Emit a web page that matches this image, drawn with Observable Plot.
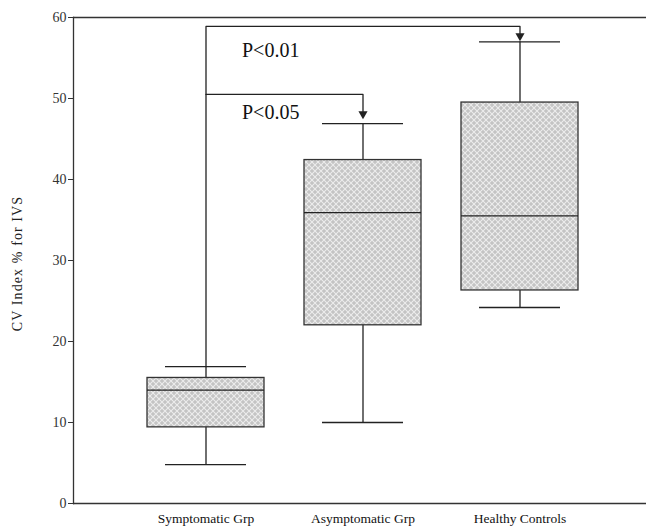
<!DOCTYPE html>
<html><head><meta charset="utf-8">
<script src="https://cdn.jsdelivr.net/npm/d3@7"></script>
<script src="https://cdn.jsdelivr.net/npm/@observablehq/plot@0.6"></script>
<style>body{margin:0;background:#fff}</style>
</head><body><div id="chart"></div>
<script>
const groups = ["Symptomatic Grp", "Asymptomatic Grp", "Healthy Controls"];
const whiskerLow = [4.8, 10, 24.2];
const quartile1 = [9.4, 22, 26.3];
const medians = [14, 35.9, 35.5];
const quartile3 = [15.5, 42.4, 49.5];
const whiskerHigh = [16.9, 46.9, 57];
const yTicks = [0, 10, 20, 30, 40, 50, 60];
const yLabel = "CV Index % for IVS";

const bracketLabels = ["P<0.01", "P<0.05"];
const bracketTargets = [groups[2], groups[1]];
const bracketLevels = [58.9, 50.5];
const bracketArrowBase = [58.0, 48.4];
const bracketArrowCenter = [57.73, 48.1];
const bracketLabelY = [55.9, 48.2];

const boxes = groups.map((g, i) => ({group: g, low: whiskerLow[i], q1: quartile1[i], median: medians[i], q3: quartile3[i], high: whiskerHigh[i]}));

const bracketPath = [
  {k: 0, x: groups[0], y: whiskerHigh[0]},
  {k: 0, x: groups[0], y: bracketLevels[0]},
  {k: 0, x: bracketTargets[0], y: bracketLevels[0]},
  {k: 0, x: bracketTargets[0], y: bracketArrowBase[0]},
  {k: 1, x: groups[0], y: bracketLevels[1]},
  {k: 1, x: bracketTargets[1], y: bracketLevels[1]},
  {k: 1, x: bracketTargets[1], y: bracketArrowBase[1]}
];
const arrows = bracketTargets.map((t, i) => ({x: t, y: bracketArrowCenter[i]}));
const labels = bracketLabels.map((l, i) => ({x: groups[0], y: bracketLabelY[i], text: l}));

const ink = "#222";
const chart = Plot.plot({
  width: 646,
  height: 529,
  marginLeft: 73,
  marginRight: 0,
  marginTop: 17,
  marginBottom: 26,
  style: {fontFamily: "'Liberation Serif', 'Times New Roman', serif", fontSize: "13px", background: "#fff", color: ink},
  x: {type: "band", domain: groups, range: [146, 578], paddingInner: 0.255, paddingOuter: 0, label: null},
  y: {domain: [0, 60], label: null},
  marks: [
    Plot.ruleY([0, 60], {stroke: "#333", strokeWidth: 1.3}),
    Plot.frame({anchor: "left", stroke: "#333", strokeWidth: 1.3}),
    Plot.axisY({ticks: yTicks, tickSize: 5, tickPadding: 2, fontSize: 14, label: null, stroke: "#333", fill: "#333"}),
    Plot.axisX({tickSize: 0, tickPadding: 10, fontSize: 13.5, label: null, fill: "#111"}),
    Plot.text([yLabel], {frameAnchor: "left", textAnchor: "middle", dx: -56, dy: 3, rotate: -90, fontSize: 14, fill: "#222"}),
    Plot.ruleX(boxes, {x: "group", y1: "low", y2: "q1", stroke: ink, strokeWidth: 1.3}),
    Plot.ruleX(boxes, {x: "group", y1: "q3", y2: "high", stroke: ink, strokeWidth: 1.3}),
    Plot.tickY(boxes, {x: "group", y: "low", stroke: ink, strokeWidth: 1.3, insetLeft: 18, insetRight: 18}),
    Plot.tickY(boxes, {x: "group", y: "high", stroke: ink, strokeWidth: 1.3, insetLeft: 18, insetRight: 18}),
    Plot.barY(boxes, {x: "group", y1: "q1", y2: "q3", fill: "url(#hatch)", stroke: "#333", strokeWidth: 1.3}),
    Plot.tickY(boxes, {x: "group", y: "median", stroke: ink, strokeWidth: 1.3}),
    Plot.line(bracketPath, {x: "x", y: "y", z: "k", stroke: ink, strokeWidth: 1.3, curve: "linear"}),
    Plot.dot(arrows, {x: "x", y: "y", symbol: "triangle", rotate: 180, r: 3.4, fill: ink, stroke: "none"}),
    Plot.text(labels, {x: "x", y: "y", text: "text", textAnchor: "start", dx: 36, fontSize: 20, fill: "#111"})
  ]
});

d3.select(chart).selectAll("text").filter(function() { return this.textContent === yLabel; }).style("letter-spacing", "1.1px");
const defs = d3.select(chart).insert("defs", ":first-child");
const pat = defs.append("pattern").attr("id", "hatch").attr("patternUnits", "userSpaceOnUse").attr("width", 6).attr("height", 6);
pat.append("rect").attr("width", 6).attr("height", 6).attr("fill", "#c4c4c4");
pat.append("path").attr("d", "M0,0L6,6M6,0L0,6").attr("stroke", "#ececec").attr("stroke-width", 1.1).attr("fill", "none");
document.getElementById("chart").append(chart);
</script>
</body></html>
